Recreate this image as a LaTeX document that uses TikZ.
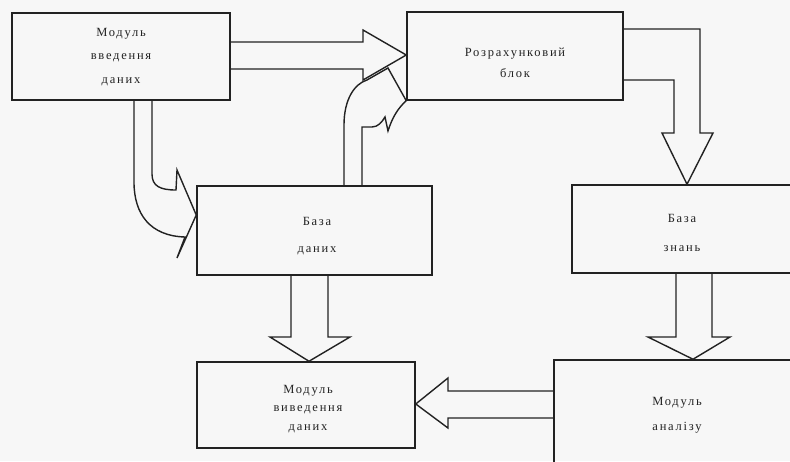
\documentclass[tikz,border=0pt]{standalone}
\usepackage{fontspec}
\setmainfont{Liberation Serif}[LetterSpace=14]
\definecolor{ink}{HTML}{222222}
\definecolor{paper}{HTML}{F7F7F7}
\begin{document}
\begin{tikzpicture}[x=1pt,y=-1pt,
  box/.style={draw=ink,line width=1.5pt,inner sep=0pt},
  lbl/.style={align=center,text=ink,inner sep=0pt,font=\fontsize{12.5}{#1}\selectfont},
  blk/.style={draw=ink,line width=1.4pt,line join=miter}]
\useasboundingbox (0,0) rectangle (790,461);
\clip (0,0) rectangle (790,461);
\fill[paper] (0,0) rectangle (790,461);
% boxes
\node[box,minimum width=218pt,minimum height=87pt] (in) at (121,56.5) {};
\node[box,minimum width=216pt,minimum height=88pt] (calc) at (515,56) {};
\node[box,minimum width=235pt,minimum height=89pt] (db) at (314.5,230.5) {};
\node[box,minimum width=220pt,minimum height=88pt] (kn) at (682,229) {};
\node[box,minimum width=218pt,minimum height=86pt] (out) at (306,405) {};
\node[box,minimum width=246pt,minimum height=110pt] (an) at (677,415) {};
% labels
\node[lbl=23.5] (in-t) at (121,57) {Модуль\\введення\\даних};
\node[lbl=21] (calc-t) at (515,63) {Розрахунковий\\блок};
\node[lbl=27] (db-t) at (317,236) {База\\даних};
\node[lbl=29] (kn-t) at (682,233) {База\\знань};
\node[lbl=18.5] (out-t) at (308,409) {Модуль\\виведення\\даних};
\node[lbl=25] (an-t) at (677,415) {Модуль\\аналізу};
% straight block arrows
\draw[blk] (in.east |- 0,42) -- (363,42) -- (363,30) -- (calc.west |- 0,55) -- (363,80) -- (363,69) -- (in.east |- 0,69);
\draw[blk] (calc.east |- 0,29) -- (700,29) -- (700,133) -- (713,133) -- (687,0 |- kn.north) -- (662,133) -- (674,133) -- (674,80) -- (calc.east |- 0,80);
\draw[blk] (676,0 |- kn.south) -- (676,337) -- (648,337) -- (693,0 |- an.north) -- (730,337) -- (712,337) -- (712,0 |- kn.south);
\draw[blk] (an.west |- 0,391) -- (448,391) -- (448,378) -- (out.east |- 0,404) -- (448,428) -- (448,418) -- (an.west |- 0,418);
\draw[blk] (291,0 |- db.south) -- (291,337) -- (270,337) -- (309,0 |- out.north) -- (350,337) -- (328,337) -- (328,0 |- db.south);
% curved block arrow: input module -> database
\draw[blk] (134,0 |- in.south) -- (134,182) .. controls (134,214) and (150,236) .. (185,237)
  -- (177,258) -- (db.west |- 0,215) -- (177,170) -- (176,190)
  .. controls (160,190) and (152,186) .. (152,174) -- (152,0 |- in.south);
% curved block arrow: database <-> calculation block
\draw[blk] (344,0 |- db.north) -- (344,125) .. controls (344,100) and (354,84) .. (367,80)
  -- (388,68) -- (calc.south west) .. controls (398,108) and (392,118) .. (388,131)
  -- (385,117) .. controls (382,122) and (378,127) .. (372,127) -- (362,127) -- (362,0 |- db.north);
\end{tikzpicture}
\end{document}
